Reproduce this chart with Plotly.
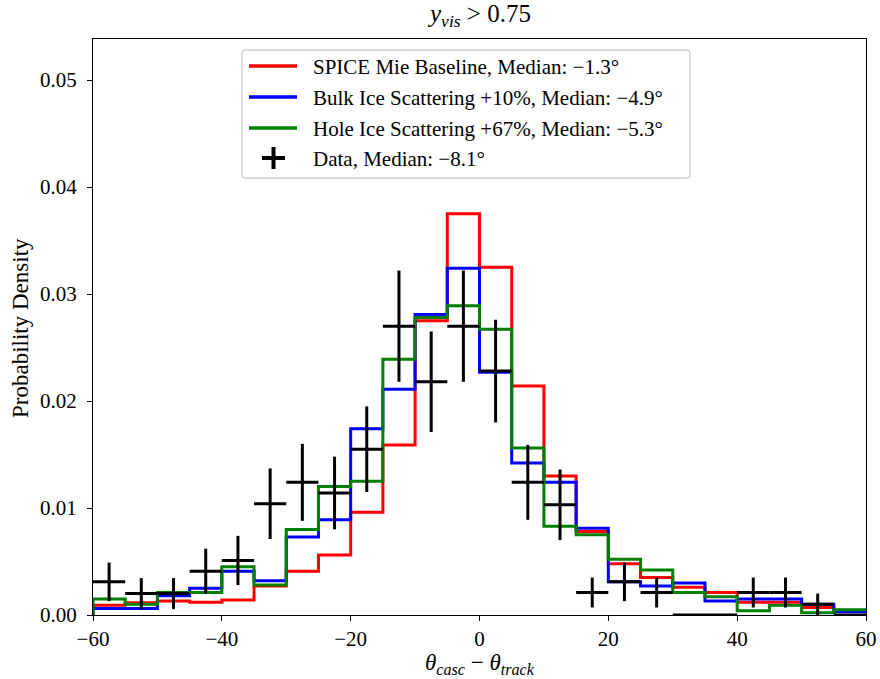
import plotly.graph_objects as go

# bin edges (degrees)
edges = [-60 + 5 * i for i in range(25)]
centers = [-57.5 + 5 * i for i in range(24)]

spice = [0.0009, 0.00115, 0.0013, 0.0012, 0.0014, 0.0027, 0.0041, 0.0056, 0.0096, 0.0159,
         0.0275, 0.0375, 0.0325, 0.0214, 0.0130, 0.0078, 0.0048, 0.0035, 0.0026, 0.0021,
         0.0012, 0.0012, 0.0007, 0.0004]
bulk = [0.0006, 0.0006, 0.0018, 0.0025, 0.0041, 0.0032, 0.0073, 0.0089, 0.0174, 0.0211,
        0.0281, 0.0324, 0.0227, 0.0142, 0.0124, 0.0081, 0.0031, 0.0027, 0.0030, 0.0013,
        0.0015, 0.0015, 0.0010, 0.0003]
hole = [0.0015, 0.0010, 0.0021, 0.0021, 0.0045, 0.0028, 0.0080, 0.0120, 0.0125, 0.0239,
        0.0278, 0.0289, 0.0267, 0.0156, 0.0083, 0.0075, 0.0052, 0.0042, 0.0021, 0.0017,
        0.0004, 0.0009, 0.0002, 0.0005]
data = [0.0031, 0.0020, 0.0020, 0.0041, 0.0051, 0.0104, 0.0124, 0.0114, 0.0155, 0.0270,
        0.0218, 0.0270, 0.0228, 0.0124, 0.0103, 0.0021, 0.0031, 0.0021, 0.0, 0.0,
        0.0021, 0.0021, 0.0010, 0.0]
data_err = [0.0018, 0.00145, 0.00145, 0.0021, 0.0023, 0.0033, 0.0036, 0.0034, 0.0040, 0.0052,
            0.0047, 0.0052, 0.0048, 0.0035, 0.0033, 0.0014, 0.0018, 0.0014, 0.0, 0.0,
            0.0014, 0.0014, 0.0010, 0.0]

names = ["SPICE Mie Baseline, Median: \u22121.3\u00b0",
         "Bulk Ice Scattering +10%, Median: \u22124.9\u00b0",
         "Hole Ice Scattering +67%, Median: \u22125.3\u00b0",
         "Data, Median: \u22128.1\u00b0"]
colors = ["#ff0000", "#0000ff", "#008000"]

FONT = "Liberation Serif"
W, H = 880, 679
L, R, T, B = 93, 14, 39, 64
PW, PH = W - L - R, H - T - B


def px(x):  # screen pixel -> paper
    return (x - L) / PW


def py(y):
    return (H - B - y) / PH


fig = go.Figure()
for vals, name, c in zip([spice, bulk, hole], names[:3], colors):
    fig.add_trace(go.Scatter(
        x=[edges[0]] + edges, y=[0] + vals + [vals[-1]],
        mode="lines", line=dict(color=c, width=3, shape="hv"), name=name,
        showlegend=False, hoverinfo="skip"))

fig.add_trace(go.Scatter(
    x=centers, y=data, mode="markers",
    marker=dict(size=0.1, color="black"),
    error_x=dict(type="constant", value=2.5, color="black", thickness=3, width=0),
    error_y=dict(type="data", array=data_err, color="black", thickness=3, width=0),
    showlegend=False, hoverinfo="skip"))

shapes = []
annotations = []
# legend box (rounded)
x0, x1, y0, y1 = px(242), px(690), py(178), py(50)
rx, ry = 4 / PW, 4 / PH
path = (f"M {x0+rx},{y0} L {x1-rx},{y0} Q {x1},{y0} {x1},{y0+ry} "
        f"L {x1},{y1-ry} Q {x1},{y1} {x1-rx},{y1} L {x0+rx},{y1} "
        f"Q {x0},{y1} {x0},{y1-ry} L {x0},{y0+ry} Q {x0},{y0} {x0+rx},{y0} Z")
shapes.append(dict(type="path", path=path, xref="paper", yref="paper",
                   line=dict(color="#d0d0d0", width=1.5), fillcolor="rgba(255,255,255,0.8)"))
rows = [66, 97, 128, 158]
for i, c in enumerate(colors):
    shapes.append(dict(type="line", xref="paper", yref="paper",
                       x0=px(249), x1=px(297), y0=py(rows[i]), y1=py(rows[i]),
                       line=dict(color=c, width=3.5)))
shapes.append(dict(type="line", xref="paper", yref="paper", x0=px(262), x1=px(285),
                   y0=py(rows[3]), y1=py(rows[3]), line=dict(color="black", width=4)))
shapes.append(dict(type="line", xref="paper", yref="paper", x0=px(273.5), x1=px(273.5),
                   y0=py(rows[3] - 11), y1=py(rows[3] + 11), line=dict(color="black", width=4)))
for i, n in enumerate(names):
    annotations.append(dict(text=n, xref="paper", yref="paper", x=px(311), y=py(rows[i] + 1),
                            xanchor="left", yanchor="middle", showarrow=False,
                            font=dict(size=21)))
# title and axis titles
annotations.append(dict(text="<i>y</i><sub><i>vis</i></sub> > 0.75", xref="paper", yref="paper",
                        x=px(479), y=py(16), xanchor="center", yanchor="middle",
                        showarrow=False, font=dict(size=25)))
annotations.append(dict(text="<i>\u03b8</i><sub><i>casc</i></sub> \u2212 <i>\u03b8</i><sub><i>track</i></sub>",
                        xref="paper", yref="paper", x=px(480), y=py(664),
                        xanchor="center", yanchor="middle", showarrow=False, font=dict(size=23)))
annotations.append(dict(text="Probability Density", xref="paper", yref="paper",
                        x=px(20), y=py(328), xanchor="center", yanchor="middle",
                        textangle=-90, showarrow=False, font=dict(size=23)))

fig.update_layout(
    width=W, height=H,
    margin=dict(l=L, r=R, t=T, b=B),
    plot_bgcolor="white", paper_bgcolor="white",
    font=dict(family=FONT, size=21, color="black"),
    showlegend=False,
    shapes=shapes, annotations=annotations,
    xaxis=dict(range=[-60, 60], tickvals=[-60, -40, -20, 0, 20, 40, 60],
               showline=True, linecolor="black", linewidth=1.2, mirror=True, automargin=False,
               ticks="outside", ticklen=5, tickcolor="black", showgrid=False, zeroline=False,
               ticklabelstandoff=0),
    yaxis=dict(range=[0, 0.05384], tickvals=[0, 0.01, 0.02, 0.03, 0.04, 0.05], tickformat=".2f",
               showline=True, linecolor="black", linewidth=1.2, mirror=True, automargin=False,
               ticks="outside", ticklen=5, tickcolor="black", showgrid=False, zeroline=False,
               ticklabelstandoff=6),
)

fig.write_html("out.html", config={"displayModeBar": False},
               post_script="document.body.style.margin='0';document.body.style.overflow='hidden';")
